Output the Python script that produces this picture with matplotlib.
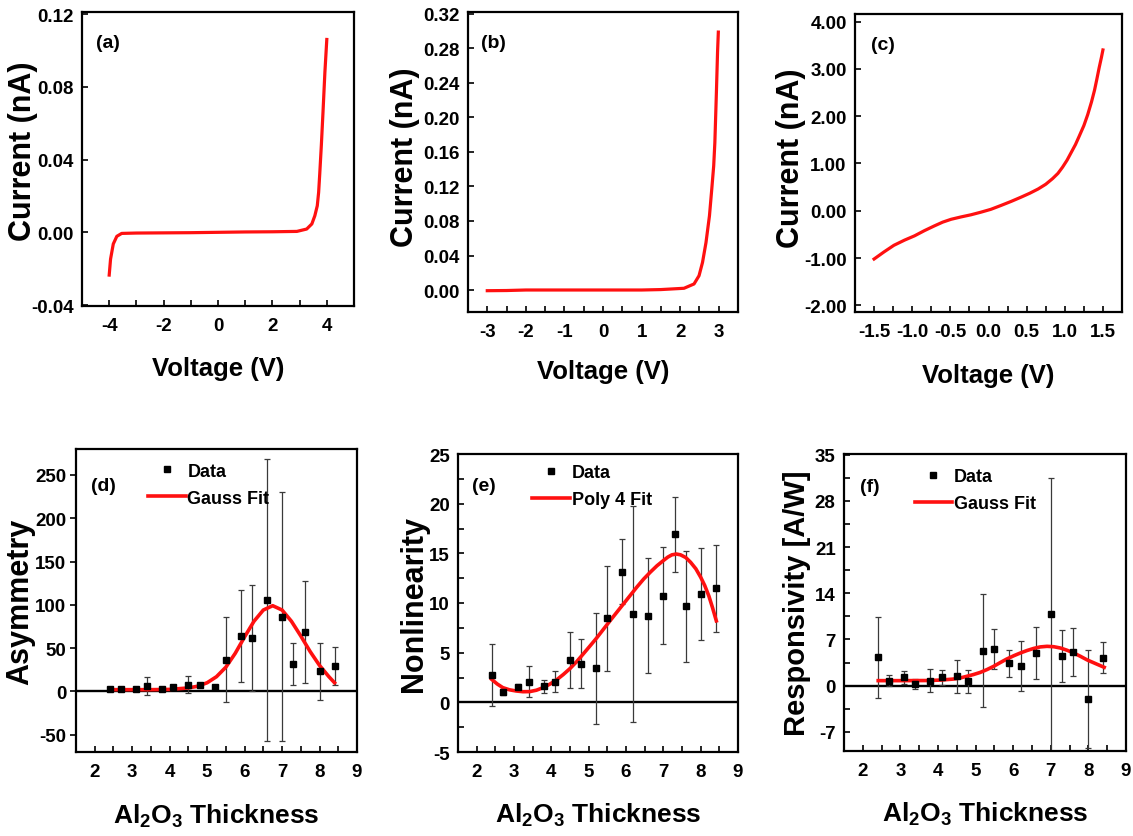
import matplotlib
matplotlib.use("Agg")
import matplotlib.pyplot as plt
from matplotlib.ticker import MultipleLocator, FormatStrFormatter
from matplotlib.lines import Line2D

# ---------------- data ----------------
# (a) I-V
V_a = [-4.0, -3.95, -3.85, -3.72, -3.54, -3.0, -2.0, -1.0, 0.0, 1.0, 2.0, 2.9,
       3.26, 3.45, 3.56, 3.65, 3.70, 3.74, 3.80, 3.86, 3.93, 4.0]
I_a = [-0.0235, -0.0147, -0.0064, -0.0022, -0.0006, -0.0004, -0.0003, -0.0002, 0.0,
       0.0002, 0.0003, 0.0005, 0.0018, 0.0046, 0.0091, 0.0146, 0.022, 0.032, 0.048,
       0.066, 0.088, 0.106]
# (b) I-V
V_b = [-3.0, -2.5, -2.0, -1.0, 0.0, 1.0, 1.5, 2.1, 2.36, 2.49, 2.58, 2.67, 2.76,
       2.82, 2.87, 2.90, 2.94, 2.97, 2.99]
I_b = [-0.0008, -0.0006, 0.0, 0.0, 0.0, 0.0, 0.0005, 0.002, 0.007, 0.0166, 0.032,
       0.055, 0.086, 0.117, 0.144, 0.171, 0.229, 0.276, 0.299]
# (c) I-V
V_c = [-1.5, -1.37, -1.24, -1.10, -0.97, -0.84, -0.71, -0.60, -0.49, -0.36, -0.23,
       -0.10, 0.03, 0.16, 0.30, 0.43, 0.54, 0.65, 0.75, 0.84, 0.91, 0.97, 1.03, 1.08,
       1.14, 1.19, 1.25, 1.30, 1.35, 1.39, 1.42, 1.45, 1.48, 1.50]
I_c = [-1.02, -0.87, -0.73, -0.62, -0.53, -0.42, -0.32, -0.24, -0.18, -0.13, -0.085,
       -0.03, 0.03, 0.11, 0.20, 0.29, 0.37, 0.46, 0.56, 0.68, 0.79, 0.92, 1.07, 1.22,
       1.40, 1.58, 1.80, 2.03, 2.30, 2.55, 2.78, 3.02, 3.24, 3.40]

# bottom panels: Al2O3 thickness
thickness = [2.4, 2.7, 3.1, 3.4, 3.8, 4.1, 4.5, 4.8, 5.2, 5.5, 5.9, 6.2, 6.6,
             7.0, 7.3, 7.6, 8.0, 8.4]
asym = [3, 3, 3, 6.5, 3, 4.6, 7.7, 7.7, 4.6, 36.5, 64, 61.5, 106, 86.5, 31.5,
        69, 23, 29]
asym_err = [1, 1, 1, 10.5, 1, 2, 10, 2, 1, 49, 53, 61, 163, 144, 24, 59, 33, 22]
nonlin = [2.73, 1.08, 1.58, 2.09, 1.62, 2.09, 4.28, 3.9, 3.43, 8.45, 13.17, 8.89,
          8.72, 10.74, 16.9, 9.66, 10.91, 11.48]
nonlin_err = [3.1, 0.3, 0.3, 1.55, 0.65, 1.1, 2.8, 2.5, 5.6, 5.3, 3.3, 10.9, 5.8,
              4.9, 3.8, 5.6, 4.6, 4.35]
resp = [4.29, 0.76, 1.26, 0.25, 0.76, 1.26, 1.4, 0.66, 5.3, 5.55, 3.38, 2.98,
        4.95, 10.8, 4.5, 5.15, -2.0, 4.24]
resp_err = [6.1, 0.8, 0.95, 0.8, 1.75, 1.1, 2.5, 1.7, 8.6, 3.1, 2.0, 3.8, 4.0,
            20.7, 4.0, 3.65, 7.45, 2.3]

# fitted curves
fit_d_x = [2.4, 3.0, 3.5, 4.0, 4.5, 4.75, 5.0, 5.25, 5.5, 5.75, 6.0, 6.25, 6.5,
           6.75, 7.0, 7.25, 7.5, 7.75, 8.0, 8.25, 8.4]
fit_d_y = [2, 2, 2, 2.3, 4, 6, 10, 17, 28, 44, 63, 81, 94, 99, 94, 81, 64, 46, 30,
           17, 10]
fit_e_x = [2.40, 2.55, 2.70, 2.88, 3.06, 3.24, 3.42, 3.60, 3.78, 3.96, 4.14, 4.32,
           4.50, 4.68, 4.85, 5.03, 5.21, 5.39, 5.57, 5.75, 5.93, 6.11, 6.29, 6.47,
           6.65, 6.83, 7.01, 7.12, 7.23, 7.35, 7.46, 7.60, 7.73, 7.87, 8.00, 8.11,
           8.22, 8.32, 8.42]
fit_e_y = [2.32, 1.85, 1.48, 1.26, 1.14, 1.07, 1.08, 1.22, 1.48, 1.83, 2.26, 2.80,
           3.40, 4.10, 4.85, 5.65, 6.46, 7.33, 8.20, 9.05, 9.90, 10.75, 11.6, 12.4,
           13.1, 13.75, 14.3, 14.62, 14.85, 14.93, 14.85, 14.58, 14.1, 13.45, 12.6,
           11.75, 10.7, 9.5, 8.2]
fit_f_x = [2.41, 3.07, 3.78, 4.10, 4.41, 4.60, 4.76, 4.94, 5.12, 5.30, 5.48, 5.65,
           5.83, 6.01, 6.19, 6.37, 6.55, 6.72, 6.90, 7.08, 7.26, 7.43, 7.61, 7.79,
           7.97, 8.20, 8.42]
fit_f_y = [0.76, 0.76, 0.78, 0.86, 1.0, 1.18, 1.41, 1.68, 2.0, 2.43, 2.93, 3.48,
           4.04, 4.52, 4.95, 5.33, 5.65, 5.87, 5.96, 5.90, 5.7, 5.37, 4.95, 4.44,
           3.89, 3.32, 2.78]

# ---------------- style ----------------
FONT = ['Liberation Sans', 'DejaVu Sans']
plt.rcParams['font.family'] = FONT
plt.rcParams['font.weight'] = 'bold'
plt.rcParams['axes.unicode_minus'] = False
plt.rcParams['mathtext.fontset'] = 'custom'
plt.rcParams['mathtext.rm'] = 'Liberation Sans:bold'
plt.rcParams['mathtext.it'] = 'Liberation Sans:bold'
plt.rcParams['mathtext.bf'] = 'Liberation Sans:bold'
plt.rcParams['mathtext.default'] = 'rm'

W, H = 1133, 837
fig = plt.figure(figsize=(W / 100, H / 100), dpi=100)


def add_ax(l, t, r, b):
    return fig.add_axes([l / W, 1 - b / H, (r - l) / W, (b - t) / H])


TICK_FS = 13.5
LAB_FS = 18.5
YLAB_FS = 22


def style(ax, xmaj, xmin, ymaj, ymin, ydir='in'):
    for s in ax.spines.values():
        s.set_linewidth(1.6)
    ax.xaxis.set_major_locator(MultipleLocator(xmaj))
    ax.xaxis.set_minor_locator(MultipleLocator(xmin))
    ax.yaxis.set_major_locator(MultipleLocator(ymaj))
    if ymin:
        ax.yaxis.set_minor_locator(MultipleLocator(ymin))
    ax.tick_params(axis='x', which='both', direction='in', top=False,
                   length=4, width=1.2, pad=8, labelsize=TICK_FS)
    ax.tick_params(axis='y', which='both', direction=ydir, right=False,
                   length=4, width=1.2, pad=3 if ydir == 'out' else 6,
                   labelsize=TICK_FS)
    for lab in ax.get_xticklabels() + ax.get_yticklabels():
        lab.set_fontweight('bold')


def panel_label(ax, txt, fx, fy):
    ax.text(fx, fy, txt, transform=ax.transAxes, fontsize=14, fontweight='bold',
            ha='left', va='center')


RED = '#ff1010'

# (a)
ax = add_ax(82, 13, 354, 307)
ax.plot(V_a, I_a, color=RED, lw=2.3)
ax.set_xlim(-5, 5)
ax.set_ylim(-0.0405, 0.1211)
style(ax, 2, 1, 0.04, None)
ax.yaxis.set_major_formatter(FormatStrFormatter('%.2f'))
ax.set_ylabel('Current (nA)', fontsize=YLAB_FS, fontweight='bold')
ax.set_xlabel('Voltage (V)', fontsize=LAB_FS, fontweight='bold')
ax.yaxis.set_label_coords(-0.16, 0.53)
ax.xaxis.set_label_coords(0.5, -0.17)
panel_label(ax, '(a)', 0.05, 0.895)

# (b)
ax = add_ax(468, 13, 738, 313)
ax.plot(V_b, I_b, color=RED, lw=2.3)
ax.set_xlim(-3.5, 3.5)
ax.set_ylim(-0.0255, 0.3223)
style(ax, 1, 0.5, 0.04, None)
ax.yaxis.set_major_formatter(FormatStrFormatter('%.2f'))
ax.set_ylabel('Current (nA)', fontsize=YLAB_FS, fontweight='bold')
ax.set_xlabel('Voltage (V)', fontsize=LAB_FS, fontweight='bold')
ax.yaxis.set_label_coords(-0.178, 0.52)
ax.xaxis.set_label_coords(0.5, -0.155)
panel_label(ax, '(b)', 0.05, 0.897)

# (c)
ax = add_ax(855, 15, 1122, 313)
ax.plot(V_c, I_c, color=RED, lw=2.3)
ax.set_xlim(-1.75, 1.75)
ax.set_ylim(-2.14, 4.16)
style(ax, 0.5, 0.25, 1.0, None)
ax.yaxis.set_major_formatter(FormatStrFormatter('%.2f'))
ax.xaxis.set_major_formatter(FormatStrFormatter('%.1f'))
ax.set_ylabel('Current (nA)', fontsize=YLAB_FS, fontweight='bold')
ax.set_xlabel('Voltage (V)', fontsize=LAB_FS, fontweight='bold')
ax.yaxis.set_label_coords(-0.182, 0.52)
ax.xaxis.set_label_coords(0.5, -0.17)
panel_label(ax, '(c)', 0.06, 0.896)


def bottom_panel(box, y, yerr, fx, fy, fitlab, ylim, ymaj, ymin, ydir, ylabel,
                 ylab_x, ylab_fs, lab, lab_xy, leg_xy):
    ax = add_ax(*box)
    ax.axhline(0, color='black', lw=1.7, zorder=1)
    ax.errorbar(thickness, y, yerr=yerr, fmt='none', ecolor='#3a3a3a',
                elinewidth=0.9, capsize=2.3, capthick=0.9, zorder=2)
    ax.plot(fx, fy, color=RED, lw=2.6, zorder=3)
    ax.plot(thickness, y, 's', color='black', ms=4.3, zorder=4)
    ax.set_xlim(1.5, 9.0)
    ax.set_ylim(*ylim)
    style(ax, 1, 0.5, ymaj, ymin, ydir=ydir)
    ax.set_ylabel(ylabel, fontsize=ylab_fs, fontweight='bold')
    ax.yaxis.set_label_coords(ylab_x, 0.5)
    ax.set_xlabel('Al$_2$O$_3$ Thickness', fontsize=LAB_FS + 0.5, fontweight='bold')
    ax.xaxis.set_label_coords(0.5, -0.165)
    panel_label(ax, lab, *lab_xy)
    h_data = Line2D([], [], ls='none', marker='s', color='black', ms=4.3)
    h_fit = Line2D([], [], color=RED, lw=2.6)
    ax.legend([h_data, h_fit], ['Data', fitlab], loc='upper left',
              bbox_to_anchor=leg_xy, frameon=False,
              handlelength=2.1, handletextpad=0.1, labelspacing=0.55,
              borderpad=0, borderaxespad=0, numpoints=1,
              prop={'weight': 'bold', 'size': 13})
    return ax


bottom_panel((76, 450, 357, 753), asym, asym_err, fit_d_x, fit_d_y, 'Gauss Fit',
             (-70, 280), 50, None, 'out', 'Asymmetry', -0.145, YLAB_FS,
             '(d)', (0.055, 0.878), (0.255, 0.955))
bottom_panel((458, 455, 738, 753), nonlin, nonlin_err, fit_e_x, fit_e_y,
             'Poly 4 Fit', (-5, 25), 5, 2.5, 'in', 'Nonlinearity', -0.105, YLAB_FS,
             '(e)', (0.05, 0.893), (0.265, 0.965))
bottom_panel((844, 455, 1126, 752), resp, resp_err, fit_f_x, fit_f_y, 'Gauss Fit',
             (-9.9, 35.1), 7, 3.5, 'in', 'Responsivity [A/W]', -0.118, 21,
             '(f)', (0.055, 0.892), (0.25, 0.952))

fig.savefig('out.png', dpi=100)
